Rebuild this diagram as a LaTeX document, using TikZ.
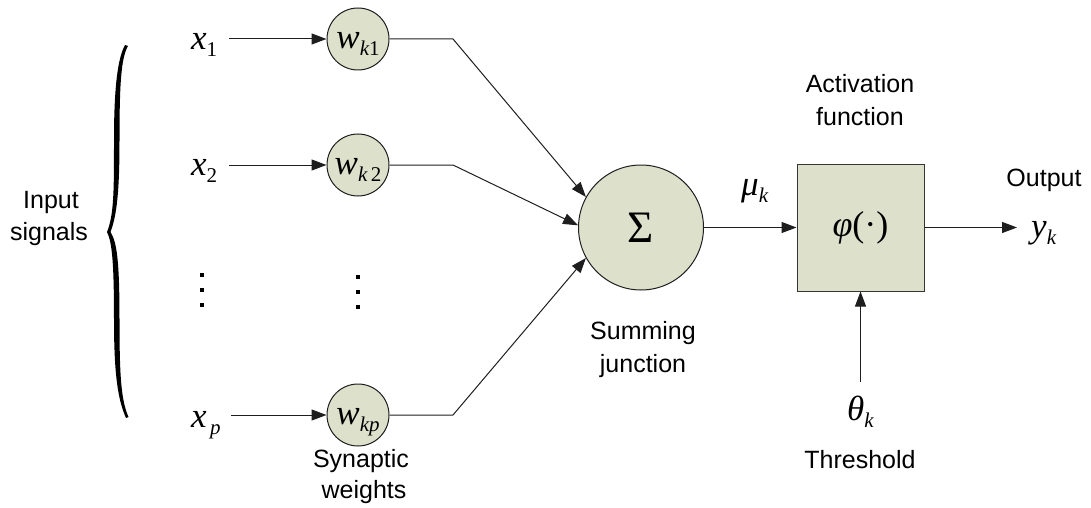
\documentclass[tikz,border=0pt]{standalone}
\usepackage{fontspec}
\setmainfont{Liberation Sans}
\newfontfamily\tms{Liberation Serif}
\usetikzlibrary{arrows.meta}
\definecolor{cfill}{RGB}{221,224,203}
\definecolor{lineclr}{RGB}{30,30,30}
\newcommand\var[2]{{\tms\fontsize{35}{35}\selectfont\itshape #1}{\tms\fontsize{21}{21}\selectfont\raisebox{-7pt}{#2}}}
\begin{document}
\begin{tikzpicture}[x=1pt,y=-1pt,
  wcirc/.style={circle,draw=lineclr,line width=1pt,fill=cfill,minimum size=62pt,inner sep=0pt,text height=21pt,text depth=2pt},
  sumcirc/.style={circle,draw=lineclr,line width=1pt,fill=cfill,minimum size=125pt,inner sep=0pt,font=\tms\fontsize{45}{45}\selectfont},
  abox/.style={rectangle,draw=lineclr!90,line width=1pt,fill=cfill,minimum size=127pt,inner sep=0pt,font=\tms\fontsize{36}{36}\selectfont},
  lbl/.style={font=\fontsize{25}{30}\selectfont,inner sep=0pt,anchor=base},
  mlbl/.style={inner sep=0pt,anchor=base west},
  dotsq/.style={rectangle,fill=black,minimum size=4.5pt,inner sep=0pt},
  arr/.style={-{Triangle[length=15pt,width=11pt]},line width=1pt,draw=lineclr},
  ln/.style={line width=1pt,draw=lineclr}]
\useasboundingbox (0,0) rectangle (1091,508);

% brace
\fill[black] (125,45) .. controls (118,58) and (114,85) .. (114,140)
  .. controls (114,190) and (114,215) .. (107,232)
  .. controls (112,242) and (114,262) .. (114,320)
  .. controls (114,375) and (118,400) .. (126,418)
  -- (128.5,417) .. controls (121,400) and (119.5,375) .. (119.5,320)
  .. controls (119.5,262) and (117,242) .. (110.5,232)
  .. controls (117,215) and (119.5,190) .. (119.5,140)
  .. controls (119.5,85) and (121,58) .. (128,46) -- cycle;

\node[lbl] (in1) at (51,208) {Input};
\node[lbl] (in2) at (49,240) {signals};

% inputs
\node[mlbl] (x1) at (191,50) {\var{x}{1}};
\node[mlbl] (x2) at (191,175) {\var{x}{2}};
\node[mlbl] (xp) at (191,427) {\var{x}{\itshape\,p}};

% weights
\node[wcirc] (w1) at (358,39) {\var{w}{\itshape k\upshape 1}};
\node[wcirc] (w2) at (358,165) {\var{w}{\itshape k\upshape\,2}};
\node[wcirc] (wp) at (358,415) {\var{w}{\itshape kp}};

% dots
\node[dotsq] (d1) at (202,275) {};
\node[dotsq] (d2) at (202,290) {};
\node[dotsq] (d3) at (202,305) {};
\node[dotsq] (e1) at (358,277) {};
\node[dotsq] (e2) at (358,292) {};
\node[dotsq] (e3) at (358,307) {};

\node[lbl] (syn1) at (361,467) {Synaptic};
\node[lbl] (syn2) at (364,498) {weights};

% summing junction
\node[sumcirc] (sum) at (641,227.5) {Σ};
\node[lbl] (sj1) at (643,339) {Summing};
\node[lbl] (sj2) at (643,372) {junction};

% activation
\node[abox] (box) at (860.5,227.5) {{\itshape φ}(·)};
\node[lbl] (af1) at (860,93) {Activation};
\node[lbl] (af2) at (860,125) {function};
\node[mlbl] (mu) at (741,195) {\var{μ}{\itshape k}};

\node[mlbl] (yk) at (1031,237) {\var{y}{\itshape k}};
\node[lbl] (out) at (1044,186) {Output};

\node[mlbl] (th) at (847,420) {\var{θ}{\itshape k}};
\node[lbl] (thr) at (860,468) {Threshold};

% corner points
\coordinate (c1) at (453,39);
\coordinate (c2) at (453,165);
\coordinate (cp) at (453,415);

% connectors
\draw[arr,shorten <=12pt] (x1.east |- w1) -- (w1);
\draw[arr,shorten <=12pt] (x2.east |- w2) -- (w2);
\draw[arr,shorten <=10pt] (xp.east |- wp) -- (wp);

\draw[arr] (w1) -- (c1) -- (sum.151);
\draw[arr] (w2) -- (c2) -- (sum.178);
\draw[arr] (wp) -- (cp) -- (sum.209);

\draw[arr] (sum) -- (box);
\draw[arr,shorten >=14pt] (box.east) -- (box.east -| yk.west);
\draw[arr,shorten <=13pt] (th.north -| box.south) -- (box.south);
\end{tikzpicture}
\end{document}
